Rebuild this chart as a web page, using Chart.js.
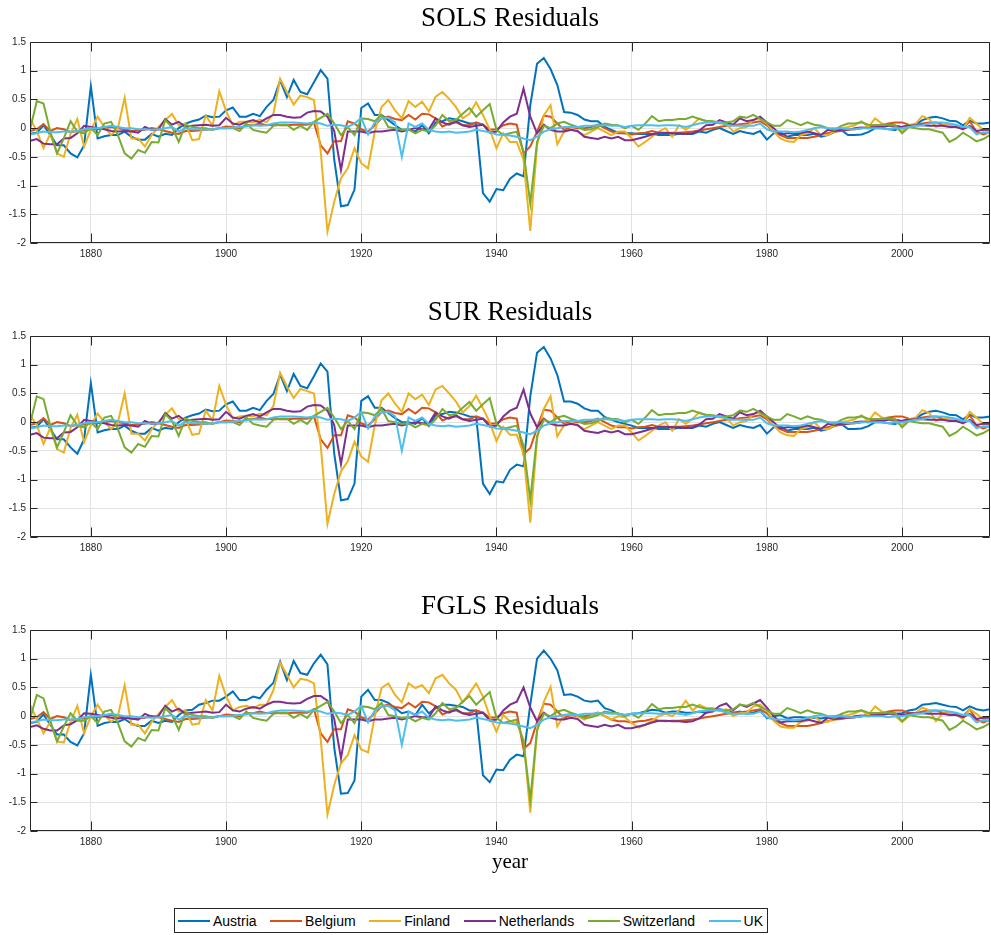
<!DOCTYPE html>
<html>
<head>
<meta charset="utf-8">
<script src="https://cdn.jsdelivr.net/npm/chart.js@4.4.1/dist/chart.umd.min.js"></script>
<style>
  body { margin: 0; background: #fff; }
  #page { position: relative; width: 991px; height: 935px; }
  canvas { position: absolute; left: 0; }
  #xlabel { position: absolute; left: 440px; width: 140px; top: 849px; text-align: center;
            font: 21px 'Liberation Serif', serif; color: #000; line-height: 24px; }
  #legend { position: absolute; left: 174px; top: 908px; width: 594px; height: 25px; box-sizing: border-box;
            border: 1px solid #262626; display: flex; align-items: center; justify-content: space-between;
            padding: 0 4px 0 3px; font: 14px 'Liberation Sans', Arial, sans-serif; color: #000; background: #fff; }
  #legend .item { display: flex; align-items: center; white-space: nowrap; }
  #legend .sw { display: inline-block; width: 32px; height: 2px; margin-right: 3px; }
</style>
</head>
<body>
<div id="page">
  <canvas id="sols" width="991" height="270" style="top:0px"></canvas>
  <canvas id="sur" width="991" height="270" style="top:294px"></canvas>
  <canvas id="fgls" width="991" height="270" style="top:588px"></canvas>
  <div id="xlabel">year</div>
  <div id="legend"></div>
</div>
<script>
// years 1871..2013, one value per year
var firstYear = 1871, lastYear = 2013;
var xTicks = [1880, 1900, 1920, 1940, 1960, 1980, 2000];
var countries = ['Austria', 'Belgium', 'Finland', 'Netherlands', 'Switzerland', 'UK'];
var colors = ['#0072BD', '#D95319', '#EDB120', '#7E2F8E', '#77AC30', '#4DBEEE'];

// ---- SOLS residuals ----
var austriaSOLS = [-0.1,-0.08,0.05,-0.12,-0.3,-0.3,-0.44,-0.51,-0.3,0.73,
  -0.18,-0.14,-0.12,-0.12,-0.06,-0.15,-0.2,-0.2,-0.1,-0.15,
  -0.1,-0.12,0.0,0.08,0.12,0.15,0.22,0.19,0.2,0.31,
  0.36,0.2,0.2,0.25,0.21,0.37,0.49,0.83,0.54,0.84,
  0.63,0.59,0.8,1.01,0.86,-0.55,-1.36,-1.34,-1.07,0.35,
  0.43,0.23,0.23,0.14,0.05,-0.03,-0.03,-0.06,0.05,-0.09,
  0.1,0.12,0.17,0.15,0.12,0.08,0.08,-1.13,-1.28,-1.06,
  -1.08,-0.88,-0.79,-0.84,0.4,1.12,1.22,1.03,0.75,0.28,
  0.27,0.23,0.15,0.12,0.12,0.02,-0.03,-0.08,-0.09,-0.09,
  -0.1,-0.1,-0.1,-0.12,-0.12,-0.12,-0.1,-0.1,-0.1,-0.06,
  -0.08,-0.03,0.0,-0.05,-0.1,-0.05,-0.08,-0.1,-0.05,-0.2,
  -0.09,-0.07,-0.15,-0.12,-0.12,-0.12,-0.1,-0.15,-0.12,-0.07,
  -0.03,-0.12,-0.12,-0.11,-0.07,0.0,0.0,-0.02,-0.03,0.02,
  0.05,0.06,0.14,0.18,0.2,0.17,0.13,0.12,0.05,0.13,
  0.08,0.08,0.1];
var belgiumSOLS = [-0.05,-0.02,0.07,-0.05,0.0,-0.02,-0.07,-0.05,-0.04,-0.02,
  -0.02,0.0,0.02,0.0,-0.02,-0.05,-0.04,-0.03,0.0,-0.02,
  -0.05,-0.08,-0.1,-0.05,-0.05,-0.04,-0.03,-0.02,0.0,0.03,
  0.02,0.0,0.05,0.05,0.08,0.05,0.06,0.05,0.05,0.06,
  0.06,0.06,0.1,-0.3,-0.44,-0.23,-0.23,0.12,0.08,-0.02,
  -0.06,0.05,0.17,0.2,0.16,0.14,0.23,0.15,0.25,0.24,
  0.17,0.03,0.08,0.1,0.05,0.05,0.1,0.06,-0.03,-0.02,
  0.05,0.08,0.06,-0.44,-0.32,-0.06,0.22,0.2,0.08,-0.03,
  0.02,0.0,0.0,0.02,0.06,0.0,-0.06,-0.09,-0.09,-0.11,
  -0.09,-0.08,-0.05,-0.08,-0.09,-0.08,-0.08,-0.07,-0.06,-0.04,
  -0.02,0.0,0.02,0.04,0.05,0.07,0.08,0.1,0.12,0.05,
  -0.06,-0.12,-0.17,-0.17,-0.17,-0.17,-0.15,-0.12,-0.09,-0.06,
  -0.05,-0.03,-0.02,0.0,0.02,0.05,0.06,0.08,0.1,0.1,
  0.06,0.05,0.08,0.1,0.1,0.06,0.05,0.04,0.0,0.12,
  -0.06,-0.11,-0.07];
var finlandSOLS = [0.17,-0.05,-0.35,-0.1,-0.44,-0.5,-0.1,0.16,-0.32,-0.03,
  0.2,0.02,-0.12,0.0,0.53,-0.18,-0.18,-0.32,-0.12,0.02,
  0.14,0.25,0.05,0.08,-0.21,-0.19,0.22,0.04,0.64,0.3,
  0.05,0.11,0.11,0.1,0.15,0.1,0.25,0.86,0.63,0.41,
  0.57,0.54,0.49,-0.4,-1.8,-1.28,-0.87,-0.7,-0.35,-0.61,
  -0.7,-0.06,0.37,0.49,0.31,0.17,0.47,0.37,0.46,0.29,
  0.55,0.63,0.51,0.37,0.17,0.25,0.45,0.23,-0.02,-0.35,
  -0.09,-0.24,-0.24,-0.55,-1.79,-0.3,0.22,0.4,-0.28,-0.06,
  -0.03,-0.06,-0.12,-0.06,0.0,-0.06,-0.12,-0.06,-0.06,-0.18,
  -0.32,-0.24,-0.15,-0.06,0.0,-0.15,0.05,-0.03,0.06,0.17,
  0.11,0.11,0.08,0.08,-0.06,0.0,0.02,0.14,0.17,0.08,
  -0.06,-0.18,-0.23,-0.24,-0.12,-0.09,0.0,-0.12,-0.12,-0.06,
  0.0,0.02,0.05,0.12,0.02,0.17,0.08,0.05,0.0,-0.05,
  0.05,0.08,0.21,0.16,0.02,0.05,0.06,0.05,-0.02,0.18,
  0.08,-0.03,-0.06];
var netherlandsSOLS = [-0.22,-0.19,-0.27,-0.28,-0.28,-0.18,-0.17,-0.09,0.04,0.02,
  0.0,-0.02,-0.05,-0.06,-0.05,-0.06,-0.08,0.02,-0.03,-0.02,
  0.16,0.06,0.11,0.02,0.04,0.05,0.06,0.04,0.05,0.18,
  0.08,0.06,0.11,0.14,0.1,0.17,0.23,0.23,0.2,0.18,
  0.19,0.27,0.3,0.29,0.2,-0.05,-0.73,-0.06,-0.06,-0.06,
  -0.09,-0.06,-0.06,-0.04,-0.03,-0.06,-0.03,0.0,-0.02,-0.02,
  0.17,0.1,0.06,0.12,0.05,0.02,0.04,0.06,-0.08,-0.06,
  0.1,0.2,0.25,0.69,0.2,-0.09,0.06,-0.03,-0.06,-0.06,
  -0.03,-0.05,-0.15,-0.17,-0.19,-0.15,-0.18,-0.15,-0.21,-0.21,
  -0.18,-0.15,-0.11,-0.08,-0.08,-0.09,-0.09,-0.1,-0.09,-0.04,
  0.05,0.06,0.14,0.1,0.06,0.17,0.12,0.14,0.2,0.1,
  0.0,-0.11,-0.09,-0.09,-0.09,-0.06,-0.09,-0.12,-0.03,-0.05,
  -0.03,-0.03,0.0,0.01,0.0,0.02,0.02,0.04,0.04,0.02,
  0.04,0.05,0.05,0.04,0.04,0.04,0.02,0.02,-0.02,0.04,
  -0.05,-0.03,-0.03];
var switzerlandSOLS = [-0.03,0.47,0.43,-0.06,-0.44,-0.18,0.12,-0.06,-0.09,0.0,
  -0.12,0.08,0.11,-0.12,-0.44,-0.53,-0.38,-0.43,-0.24,-0.25,
  0.14,0.02,-0.24,0.06,0.02,0.0,0.0,-0.03,0.0,0.0,
  0.0,-0.05,0.08,-0.03,-0.06,-0.08,0.04,0.06,0.06,-0.03,
  0.04,-0.03,0.11,0.18,0.25,0.08,-0.12,0.02,-0.12,0.17,
  0.16,0.12,0.23,0.02,0.0,-0.03,-0.02,-0.09,-0.03,-0.06,
  0.05,0.23,0.12,0.14,0.25,0.35,0.2,0.31,0.42,-0.03,
  -0.12,-0.09,-0.06,-0.41,-1.31,-0.24,0.04,0.0,0.08,0.11,
  0.06,0.02,-0.03,-0.02,0.02,0.08,0.06,0.05,0.0,0.04,
  -0.03,0.08,0.21,0.12,0.14,0.14,0.16,0.16,0.2,0.16,
  0.13,0.12,0.1,0.1,0.12,0.2,0.18,0.23,0.16,0.1,
  0.04,0.04,0.14,0.1,0.05,0.1,0.06,0.04,0.0,-0.03,
  0.04,0.08,0.08,0.1,0.06,0.05,0.06,0.06,0.05,-0.09,
  0.02,0.0,-0.02,-0.02,-0.05,-0.08,-0.24,-0.18,-0.08,-0.15,
  -0.23,-0.19,-0.12];
// UK looks the same in all three panels
var ukResid = [-0.11,-0.09,-0.06,-0.07,-0.07,-0.06,-0.06,-0.05,-0.02,0.0,
  0.0,0.02,0.04,0.02,0.0,0.0,-0.02,-0.02,-0.03,-0.02,
  0.0,0.02,-0.06,0.0,-0.02,-0.02,-0.03,-0.02,0.0,0.0,
  0.01,0.02,0.03,0.05,0.04,0.05,0.08,0.1,0.1,0.1,
  0.09,0.08,0.1,0.08,0.04,0.06,0.05,0.02,0.08,0.18,
  -0.11,0.1,0.17,0.18,0.1,-0.5,0.08,0.02,0.08,-0.03,
  -0.06,-0.07,-0.06,-0.08,-0.07,-0.06,-0.03,-0.05,-0.07,-0.11,
  -0.12,-0.13,-0.15,-0.18,-0.21,-0.15,-0.06,-0.02,0.0,0.02,
  0.02,0.02,0.04,0.04,0.05,0.05,0.04,0.04,0.02,0.04,
  0.05,0.05,0.05,0.04,0.05,0.05,0.04,0.02,0.05,0.08,
  0.1,0.1,0.1,0.06,0.04,0.04,0.04,0.04,0.08,-0.02,
  -0.06,-0.06,-0.06,-0.07,-0.06,-0.03,0.0,0.02,0.0,0.0,
  0.0,-0.02,-0.02,0.0,0.0,0.0,0.0,-0.02,0.0,0.0,
  0.02,0.04,0.05,0.08,0.1,0.1,0.08,0.06,0.02,0.02,
  -0.11,-0.07,-0.09];

// ---- SUR residuals ----
var austriaSUR = [-0.1,-0.08,0.05,-0.12,-0.3,-0.3,-0.44,-0.55,-0.3,0.68,
  -0.18,-0.14,-0.12,-0.12,-0.06,-0.15,-0.2,-0.2,-0.1,-0.15,
  -0.1,-0.12,0.0,0.08,0.12,0.15,0.22,0.19,0.2,0.31,
  0.36,0.2,0.2,0.25,0.21,0.37,0.49,0.83,0.54,0.84,
  0.63,0.59,0.8,1.02,0.88,-0.55,-1.36,-1.34,-1.07,0.37,
  0.45,0.25,0.25,0.16,0.07,0.0,0.0,-0.03,0.07,-0.07,
  0.12,0.14,0.18,0.17,0.14,0.1,0.09,-1.07,-1.25,-1.03,
  -1.05,-0.83,-0.74,-0.77,0.45,1.21,1.31,1.11,0.82,0.36,
  0.36,0.32,0.24,0.2,0.2,0.09,0.04,0.0,-0.03,-0.06,
  -0.1,-0.1,-0.1,-0.12,-0.12,-0.12,-0.1,-0.1,-0.1,-0.06,
  -0.08,-0.03,0.0,-0.05,-0.1,-0.05,-0.08,-0.1,-0.05,-0.2,
  -0.09,-0.07,-0.15,-0.12,-0.12,-0.12,-0.1,-0.15,-0.12,-0.07,
  -0.03,-0.12,-0.12,-0.11,-0.07,0.0,0.0,-0.02,-0.03,0.02,
  0.05,0.06,0.14,0.18,0.2,0.17,0.13,0.12,0.05,0.13,
  0.08,0.08,0.1];
var belgiumSUR = [-0.05,-0.02,0.07,-0.05,0.0,-0.02,-0.07,-0.05,-0.04,-0.02,
  -0.02,0.0,0.02,0.0,-0.02,-0.05,-0.04,-0.03,0.0,-0.02,
  -0.05,-0.08,-0.1,-0.05,-0.05,-0.04,-0.03,-0.02,0.0,0.03,
  0.02,0.0,0.05,0.05,0.08,0.05,0.06,0.05,0.05,0.06,
  0.06,0.06,0.1,-0.3,-0.45,-0.23,-0.23,0.12,0.08,-0.02,
  -0.06,0.05,0.17,0.2,0.16,0.14,0.23,0.15,0.25,0.24,
  0.17,0.03,0.08,0.1,0.05,0.05,0.1,0.06,-0.03,-0.02,
  0.05,0.08,0.06,-0.56,-0.45,-0.1,0.22,0.2,0.08,-0.03,
  0.02,0.0,0.0,0.02,0.06,0.0,-0.06,-0.09,-0.09,-0.11,
  -0.09,-0.08,-0.05,-0.08,-0.09,-0.08,-0.08,-0.07,-0.06,-0.04,
  -0.02,0.0,0.02,0.04,0.05,0.07,0.08,0.1,0.12,0.05,
  -0.06,-0.12,-0.17,-0.17,-0.17,-0.17,-0.15,-0.12,-0.09,-0.06,
  -0.05,-0.03,-0.02,0.0,0.02,0.05,0.06,0.08,0.1,0.1,
  0.06,0.05,0.08,0.1,0.1,0.06,0.05,0.04,0.0,0.12,
  -0.06,-0.11,-0.07];
var finlandSUR = [0.12,-0.05,-0.38,-0.1,-0.47,-0.53,-0.1,0.13,-0.35,-0.05,
  0.15,0.0,-0.12,0.0,0.5,-0.2,-0.2,-0.32,-0.12,0.0,
  0.13,0.24,0.05,0.06,-0.22,-0.2,0.2,0.03,0.63,0.3,
  0.06,0.1,0.11,0.1,0.15,0.12,0.28,0.86,0.62,0.42,
  0.58,0.54,0.5,-0.4,-1.77,-1.25,-0.86,-0.68,-0.34,-0.6,
  -0.69,-0.05,0.38,0.5,0.32,0.18,0.5,0.4,0.48,0.3,
  0.57,0.63,0.5,0.36,0.17,0.28,0.46,0.24,0.0,-0.33,
  -0.08,-0.22,-0.22,-0.55,-1.75,-0.3,0.23,0.45,-0.25,-0.05,
  -0.03,-0.06,-0.12,-0.06,0.0,-0.06,-0.12,-0.06,-0.06,-0.18,
  -0.32,-0.24,-0.15,-0.06,0.0,-0.15,0.05,-0.03,0.06,0.17,
  0.11,0.11,0.08,0.08,-0.06,0.0,0.02,0.14,0.17,0.08,
  -0.06,-0.18,-0.23,-0.24,-0.12,-0.09,0.0,-0.12,-0.12,-0.06,
  0.0,0.02,0.05,0.12,0.02,0.17,0.08,0.05,0.0,-0.05,
  0.05,0.08,0.21,0.16,0.02,0.05,0.06,0.05,-0.02,0.18,
  0.08,-0.03,-0.06];
var netherlandsSUR = [-0.22,-0.19,-0.27,-0.28,-0.28,-0.18,-0.17,-0.09,0.04,0.02,
  0.0,-0.02,-0.05,-0.06,-0.05,-0.06,-0.08,0.02,-0.03,-0.02,
  0.16,0.06,0.11,0.02,0.04,0.05,0.06,0.04,0.05,0.18,
  0.08,0.06,0.11,0.14,0.1,0.17,0.23,0.23,0.2,0.18,
  0.19,0.27,0.3,0.29,0.2,-0.05,-0.73,-0.06,-0.06,-0.06,
  -0.09,-0.06,-0.06,-0.04,-0.03,-0.06,-0.03,0.0,-0.02,-0.02,
  0.17,0.1,0.06,0.12,0.05,0.02,0.04,0.06,-0.08,-0.06,
  0.1,0.2,0.25,0.57,0.15,-0.09,0.06,-0.03,-0.06,-0.06,
  -0.03,-0.05,-0.15,-0.17,-0.19,-0.15,-0.18,-0.15,-0.21,-0.21,
  -0.18,-0.15,-0.11,-0.08,-0.08,-0.09,-0.09,-0.1,-0.09,-0.04,
  0.05,0.06,0.14,0.1,0.06,0.17,0.12,0.14,0.2,0.1,
  0.0,-0.11,-0.09,-0.09,-0.09,-0.06,-0.09,-0.12,-0.03,-0.05,
  -0.03,-0.03,0.0,0.01,0.0,0.02,0.02,0.04,0.04,0.02,
  0.04,0.05,0.05,0.04,0.04,0.04,0.02,0.02,-0.02,0.04,
  -0.05,-0.03,-0.03];
var switzerlandSUR = [-0.03,0.45,0.4,-0.06,-0.44,-0.18,0.12,-0.06,-0.09,0.0,
  -0.12,0.08,0.11,-0.12,-0.44,-0.53,-0.38,-0.43,-0.24,-0.25,
  0.14,0.02,-0.24,0.06,0.02,0.0,0.0,-0.03,0.0,0.0,
  0.0,-0.05,0.08,-0.03,-0.06,-0.08,0.04,0.06,0.06,-0.03,
  0.04,-0.03,0.11,0.18,0.25,0.08,-0.12,0.02,-0.12,0.17,
  0.16,0.12,0.23,0.02,0.0,-0.03,-0.02,-0.09,-0.03,-0.06,
  0.05,0.23,0.12,0.14,0.25,0.35,0.2,0.31,0.42,-0.03,
  -0.12,-0.09,-0.06,-0.41,-1.35,-0.24,0.04,0.0,0.08,0.11,
  0.06,0.02,-0.03,-0.02,0.02,0.08,0.06,0.05,0.0,0.04,
  -0.03,0.08,0.21,0.12,0.14,0.14,0.16,0.16,0.2,0.16,
  0.13,0.12,0.1,0.1,0.12,0.2,0.18,0.23,0.16,0.1,
  0.04,0.04,0.14,0.1,0.05,0.1,0.06,0.04,0.0,-0.03,
  0.04,0.08,0.08,0.1,0.06,0.05,0.06,0.06,0.05,-0.09,
  0.02,0.0,-0.02,-0.02,-0.05,-0.08,-0.24,-0.18,-0.08,-0.15,
  -0.23,-0.19,-0.12];

// ---- FGLS residuals ----
var austriaFGLS = [-0.12,-0.1,0.03,-0.15,-0.32,-0.32,-0.45,-0.51,-0.3,0.72,
  -0.17,-0.12,-0.1,-0.1,-0.05,-0.13,-0.17,-0.17,-0.08,-0.12,
  -0.08,-0.1,0.02,0.1,0.11,0.2,0.23,0.27,0.27,0.34,
  0.43,0.28,0.28,0.34,0.31,0.46,0.58,0.95,0.63,0.96,
  0.75,0.72,0.92,1.07,0.9,-0.55,-1.35,-1.34,-1.12,0.34,
  0.46,0.28,0.28,0.23,0.14,0.05,0.08,0.02,0.2,0.05,
  0.14,0.2,0.2,0.18,0.16,0.1,0.1,-1.03,-1.15,-0.93,
  -0.94,-0.76,-0.67,-0.7,0.2,1.0,1.14,1.0,0.8,0.37,
  0.38,0.34,0.27,0.25,0.27,0.14,0.1,0.04,0.02,0.04,
  0.05,0.08,0.11,0.1,0.06,0.08,0.08,0.06,0.06,0.08,
  0.06,0.1,0.12,0.1,0.06,0.08,0.04,0.06,0.1,-0.04,
  0.0,0.02,-0.04,-0.02,-0.02,-0.03,-0.03,-0.04,-0.02,0.0,
  0.02,-0.03,-0.02,0.0,0.02,0.05,0.06,0.05,0.04,0.05,
  0.1,0.12,0.2,0.21,0.23,0.2,0.17,0.16,0.1,0.17,
  0.12,0.1,0.12];
var belgiumFGLS = [-0.05,-0.02,0.07,-0.05,0.0,-0.02,-0.07,-0.05,-0.04,-0.02,
  -0.02,0.0,0.02,0.0,-0.02,-0.05,-0.04,-0.03,0.0,-0.02,
  -0.05,-0.08,-0.1,-0.05,-0.05,-0.04,-0.03,-0.02,0.0,0.03,
  0.02,0.0,0.05,0.05,0.08,0.05,0.06,0.05,0.05,0.06,
  0.06,0.06,0.12,-0.3,-0.45,-0.23,-0.23,0.12,0.08,-0.02,
  -0.06,0.05,0.17,0.2,0.16,0.14,0.23,0.15,0.25,0.24,
  0.17,0.03,0.08,0.1,0.05,0.05,0.1,0.06,-0.03,-0.02,
  0.05,0.08,0.06,-0.57,-0.47,-0.1,0.22,0.2,0.08,-0.03,
  0.02,0.0,0.0,0.02,0.06,0.0,-0.06,-0.09,-0.09,-0.11,
  -0.09,-0.08,-0.05,-0.08,-0.09,-0.08,-0.08,-0.07,-0.06,-0.04,
  -0.02,0.0,0.02,0.04,0.05,0.07,0.08,0.1,0.12,0.05,
  -0.06,-0.12,-0.17,-0.17,-0.17,-0.17,-0.15,-0.12,-0.09,-0.06,
  -0.05,-0.03,-0.02,0.0,0.02,0.05,0.06,0.08,0.1,0.1,
  0.06,0.05,0.08,0.1,0.1,0.06,0.05,0.04,0.0,0.12,
  -0.06,-0.11,-0.07];
var finlandFGLS = [0.2,-0.05,-0.3,-0.1,-0.44,-0.46,-0.1,0.18,-0.3,0.0,
  0.2,0.02,-0.1,0.0,0.54,-0.15,-0.15,-0.3,-0.1,0.04,
  0.16,0.28,0.08,0.1,-0.15,-0.13,0.28,0.1,0.7,0.35,
  0.1,0.16,0.18,0.14,0.2,0.2,0.45,0.93,0.72,0.5,
  0.65,0.63,0.57,-0.4,-1.71,-1.2,-0.82,-0.68,-0.33,-0.58,
  -0.63,0.0,0.49,0.57,0.37,0.24,0.57,0.49,0.54,0.4,
  0.66,0.72,0.57,0.46,0.24,0.4,0.57,0.34,0.0,-0.27,
  0.02,-0.09,-0.12,-0.41,-1.68,-0.27,0.25,0.51,-0.18,0.02,
  0.04,0.0,-0.06,0.0,0.06,0.0,-0.06,0.0,-0.02,-0.12,
  -0.2,-0.15,-0.08,0.0,0.04,0.0,0.1,0.27,0.1,0.2,
  0.14,0.14,0.1,0.12,0.0,0.05,0.06,0.17,0.2,0.1,
  -0.08,-0.18,-0.2,-0.2,-0.1,-0.08,0.0,-0.1,-0.1,-0.04,
  0.0,0.02,0.05,0.1,0.02,0.17,0.08,0.05,0.0,-0.1,
  0.0,0.06,0.15,0.1,-0.09,0.05,0.05,0.02,-0.05,0.12,
  0.04,-0.05,-0.07];
var netherlandsFGLS = [-0.19,-0.16,-0.22,-0.25,-0.25,-0.16,-0.14,-0.07,0.05,0.04,
  0.02,0.0,-0.03,-0.04,-0.03,-0.04,-0.06,0.04,-0.01,0.0,
  0.18,0.08,0.13,0.04,0.06,0.07,0.08,0.06,0.07,0.2,
  0.1,0.08,0.13,0.16,0.13,0.2,0.25,0.25,0.23,0.22,
  0.23,0.3,0.35,0.35,0.27,-0.05,-0.73,-0.06,-0.06,-0.06,
  -0.09,-0.06,-0.06,-0.04,-0.03,-0.06,-0.03,0.0,-0.02,-0.02,
  0.17,0.1,0.06,0.12,0.05,0.02,0.04,0.06,-0.08,-0.06,
  0.1,0.2,0.25,0.5,0.15,-0.09,0.06,-0.03,-0.06,-0.06,
  -0.03,-0.05,-0.15,-0.17,-0.19,-0.15,-0.18,-0.15,-0.21,-0.21,
  -0.18,-0.15,-0.11,-0.08,-0.08,-0.09,-0.09,-0.1,-0.09,-0.04,
  0.06,0.08,0.18,0.22,0.1,0.2,0.16,0.22,0.28,0.15,
  0.0,-0.11,-0.09,-0.09,-0.09,-0.06,-0.09,-0.12,-0.03,-0.05,
  -0.03,-0.03,0.0,0.01,0.0,0.02,0.02,0.04,0.04,0.02,
  0.04,0.05,0.05,0.04,0.04,0.04,0.02,0.02,-0.02,0.04,
  -0.05,-0.03,-0.03];
var switzerlandFGLS = [-0.05,0.37,0.31,-0.08,-0.44,-0.18,0.05,-0.08,-0.08,0.0,
  -0.12,0.08,0.11,-0.12,-0.44,-0.53,-0.38,-0.43,-0.24,-0.25,
  0.14,0.02,-0.24,0.06,0.02,0.0,0.0,-0.03,0.0,0.0,
  0.0,-0.05,0.08,-0.03,-0.06,-0.08,0.04,0.06,0.06,-0.03,
  0.04,-0.03,0.11,0.18,0.25,0.08,-0.12,0.02,-0.12,0.17,
  0.16,0.12,0.23,0.02,0.0,-0.03,-0.02,-0.09,-0.03,-0.06,
  0.05,0.23,0.12,0.14,0.25,0.35,0.2,0.31,0.42,-0.03,
  -0.12,-0.09,-0.06,-0.45,-1.45,-0.24,0.04,0.0,0.08,0.11,
  0.06,0.02,-0.03,-0.02,0.02,0.08,0.06,0.05,0.0,0.04,
  -0.03,0.08,0.21,0.12,0.14,0.14,0.16,0.16,0.2,0.16,
  0.13,0.12,0.1,0.1,0.12,0.2,0.18,0.23,0.16,0.1,
  0.04,0.04,0.14,0.1,0.05,0.1,0.06,0.04,0.0,-0.03,
  0.04,0.08,0.08,0.1,0.06,0.05,0.06,0.06,0.05,-0.09,
  0.02,0.0,-0.02,-0.02,-0.05,-0.08,-0.24,-0.18,-0.08,-0.15,
  -0.23,-0.19,-0.12];

var years = [];
for (var yr = firstYear; yr <= lastYear; yr++) years.push(yr);

// box + inward tick marks, matlab style
var framePlugin = {
  id: 'frame',
  afterDraw: function(chart) {
    var ctx = chart.ctx, a = chart.chartArea;
    var xs = chart.scales.x, ys = chart.scales.y;
    var L = Math.round(a.left) + 0.5, R = Math.round(a.right) - 0.5;
    var T = Math.round(a.top) + 0.5, B = Math.round(a.bottom) - 0.5;
    ctx.save();
    ctx.strokeStyle = '#262626';
    ctx.lineWidth = 1;
    ctx.beginPath();
    ctx.rect(L, T, R - L, B - T);
    xTicks.forEach(function(v) {
      var px = Math.round(xs.getPixelForValue(v)) + 0.5;
      ctx.moveTo(px, B); ctx.lineTo(px, B - 9);
      ctx.moveTo(px, T); ctx.lineTo(px, T + 9);
    });
    ys.ticks.forEach(function(t) {
      var py = Math.round(ys.getPixelForValue(t.value)) + 0.5;
      ctx.moveTo(L, py); ctx.lineTo(L + 7, py);
      ctx.moveTo(R, py); ctx.lineTo(R - 7, py);
    });
    ctx.stroke();
    ctx.restore();
  }
};

function makePanel(id, title, series) {
  var datasets = series.map(function(vals, i) {
    return {
      label: countries[i],
      data: years.map(function(y, k) { return {x: y, y: vals[k]}; }),
      borderColor: colors[i],
      backgroundColor: colors[i],
      borderWidth: 2,
      pointRadius: 0,
      tension: 0,
      fill: false,
      order: series.length - i
    };
  });
  var tickFont = {family: "'Liberation Sans', Arial, sans-serif", size: 10};
  return new Chart(document.getElementById(id), {
    type: 'line',
    data: {datasets: datasets},
    options: {
      responsive: false,
      animation: false,
      devicePixelRatio: 1,
      layout: {padding: {left: 0, right: 1, top: 0, bottom: 0}},
      plugins: {
        legend: {display: false},
        tooltip: {enabled: false},
        title: {
          display: true, text: title, fullSize: false, color: '#000',
          font: {family: "'Liberation Serif', serif", size: 27, weight: 'normal'},
          padding: {top: 3, bottom: 6.6}
        }
      },
      scales: {
        x: {
          type: 'linear', min: firstYear, max: lastYear,
          afterBuildTicks: function(s) { s.ticks = xTicks.map(function(v) { return {value: v}; }); },
          afterFit: function(s) { s.height = 27; },
          grid: {color: '#e2e2e2', drawTicks: false},
          border: {display: false},
          ticks: {font: tickFont, color: '#262626', padding: 5, maxRotation: 0, autoSkip: false,
                  callback: function(v) { return String(v); }}
        },
        y: {
          min: -2, max: 1.5,
          afterFit: function(s) { s.width = 30; },
          grid: {color: '#e2e2e2', drawTicks: false},
          border: {display: false},
          ticks: {stepSize: 0.5, font: tickFont, color: '#262626', padding: 4,
                  callback: function(v) { return String(v); }}
        }
      }
    },
    plugins: [framePlugin]
  });
}

makePanel('sols', 'SOLS Residuals',
  [austriaSOLS, belgiumSOLS, finlandSOLS, netherlandsSOLS, switzerlandSOLS, ukResid]);
makePanel('sur', 'SUR Residuals',
  [austriaSUR, belgiumSUR, finlandSUR, netherlandsSUR, switzerlandSUR, ukResid]);
makePanel('fgls', 'FGLS Residuals',
  [austriaFGLS, belgiumFGLS, finlandFGLS, netherlandsFGLS, switzerlandFGLS, ukResid]);

// legend box under the last panel
var legend = document.getElementById('legend');
countries.forEach(function(name, i) {
  var item = document.createElement('span');
  item.className = 'item';
  var sw = document.createElement('span');
  sw.className = 'sw';
  sw.style.background = colors[i];
  item.appendChild(sw);
  item.appendChild(document.createTextNode(name));
  legend.appendChild(item);
});
</script>
</body>
</html>
